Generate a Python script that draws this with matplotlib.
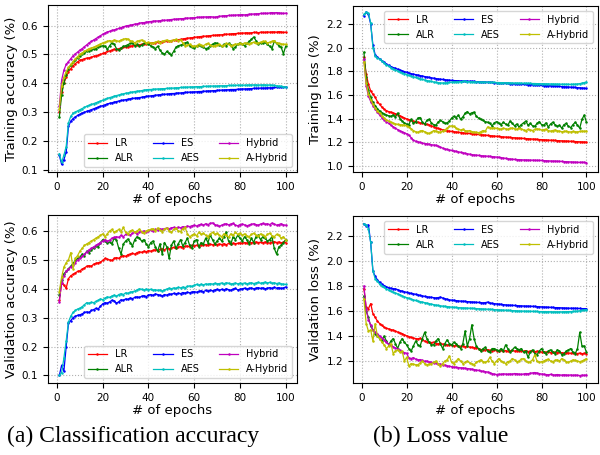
import matplotlib
matplotlib.use("Agg")
import matplotlib.pyplot as plt

epochs = list(range(1, 101))
labels = ["LR", "ALR", "ES", "AES", "Hybrid", "A-Hybrid"]
colors = ["r", "g", "b", "c", "m", "y"]

# ---- training accuracy ----
train_acc_lr = [
    0.300, 0.370, 0.400, 0.420, 0.440, 0.450, 0.460, 0.468, 0.474, 0.480,
    0.482, 0.485, 0.487, 0.488, 0.490, 0.493, 0.495, 0.497, 0.500, 0.503,
    0.506, 0.510, 0.512, 0.515, 0.518, 0.516, 0.520, 0.522, 0.524, 0.525,
    0.527, 0.528, 0.530, 0.531, 0.532, 0.533, 0.535, 0.536, 0.537, 0.538,
    0.539, 0.540, 0.541, 0.542, 0.543, 0.544, 0.545, 0.546, 0.547, 0.548,
    0.549, 0.550, 0.551, 0.552, 0.553, 0.555, 0.556, 0.557, 0.558, 0.559,
    0.560, 0.561, 0.562, 0.563, 0.563, 0.564, 0.565, 0.566, 0.566, 0.567,
    0.568, 0.568, 0.569, 0.570, 0.570, 0.571, 0.572, 0.572, 0.573, 0.573,
    0.574, 0.574, 0.575, 0.574, 0.575, 0.576, 0.576, 0.575, 0.577, 0.577,
    0.576, 0.578, 0.577, 0.578, 0.578, 0.577, 0.579, 0.578, 0.576, 0.577]
train_acc_alr = [
    0.282, 0.360, 0.400, 0.430, 0.450, 0.462, 0.472, 0.480, 0.488, 0.495,
    0.500, 0.505, 0.510, 0.512, 0.515, 0.518, 0.520, 0.525, 0.528, 0.530,
    0.528, 0.518, 0.530, 0.540, 0.535, 0.520, 0.515, 0.522, 0.528, 0.530,
    0.534, 0.538, 0.540, 0.530, 0.535, 0.528, 0.532, 0.538, 0.540, 0.535,
    0.530, 0.525, 0.520, 0.528, 0.515, 0.505, 0.500, 0.510, 0.503, 0.498,
    0.510, 0.525, 0.530, 0.532, 0.535, 0.540, 0.542, 0.530, 0.525, 0.522,
    0.528, 0.532, 0.530, 0.525, 0.520, 0.522, 0.530, 0.535, 0.540, 0.538,
    0.532, 0.528, 0.535, 0.530, 0.538, 0.532, 0.520, 0.525, 0.535, 0.540,
    0.535, 0.530, 0.538, 0.545, 0.552, 0.560, 0.548, 0.535, 0.540, 0.538,
    0.542, 0.535, 0.528, 0.520, 0.545, 0.538, 0.530, 0.525, 0.502, 0.528]
train_acc_es = [
    0.150, 0.118, 0.135, 0.160, 0.250, 0.268, 0.277, 0.283, 0.288, 0.292,
    0.296, 0.299, 0.302, 0.305, 0.308, 0.311, 0.314, 0.317, 0.320, 0.322,
    0.325, 0.328, 0.330, 0.332, 0.334, 0.336, 0.338, 0.340, 0.341, 0.343,
    0.344, 0.346, 0.347, 0.348, 0.349, 0.350, 0.351, 0.353, 0.354, 0.355,
    0.356, 0.357, 0.358, 0.359, 0.360, 0.361, 0.361, 0.362, 0.363, 0.364,
    0.364, 0.365, 0.366, 0.366, 0.367, 0.368, 0.368, 0.369, 0.369, 0.370,
    0.370, 0.371, 0.371, 0.372, 0.372, 0.373, 0.373, 0.374, 0.374, 0.375,
    0.375, 0.376, 0.376, 0.377, 0.377, 0.378, 0.378, 0.378, 0.379, 0.379,
    0.380, 0.380, 0.380, 0.381, 0.381, 0.382, 0.382, 0.382, 0.383, 0.383,
    0.383, 0.384, 0.384, 0.384, 0.385, 0.385, 0.385, 0.386, 0.385, 0.386]
train_acc_aes = [
    0.155, 0.125, 0.150, 0.180, 0.262, 0.285, 0.295, 0.300, 0.304, 0.308,
    0.312, 0.316, 0.320, 0.323, 0.326, 0.329, 0.332, 0.335, 0.338, 0.341,
    0.344, 0.347, 0.350, 0.352, 0.355, 0.357, 0.359, 0.361, 0.363, 0.365,
    0.366, 0.368, 0.369, 0.371, 0.372, 0.373, 0.374, 0.376, 0.377, 0.378,
    0.378, 0.379, 0.379, 0.380, 0.380, 0.381, 0.381, 0.382, 0.382, 0.383,
    0.383, 0.384, 0.384, 0.385, 0.385, 0.386, 0.386, 0.387, 0.387, 0.387,
    0.388, 0.388, 0.388, 0.389, 0.389, 0.389, 0.390, 0.390, 0.390, 0.390,
    0.391, 0.391, 0.391, 0.391, 0.392, 0.392, 0.392, 0.392, 0.393, 0.393,
    0.393, 0.393, 0.393, 0.394, 0.394, 0.394, 0.394, 0.393, 0.394, 0.394,
    0.394, 0.393, 0.394, 0.393, 0.392, 0.391, 0.390, 0.389, 0.388, 0.387]
train_acc_hybrid = [
    0.320, 0.410, 0.445, 0.465, 0.475, 0.485, 0.495, 0.502, 0.508, 0.515,
    0.520, 0.527, 0.533, 0.540, 0.545, 0.550, 0.555, 0.560, 0.565, 0.570,
    0.574, 0.578, 0.580, 0.583, 0.585, 0.587, 0.590, 0.593, 0.596, 0.598,
    0.600, 0.601, 0.603, 0.605, 0.606, 0.608, 0.610, 0.610, 0.612, 0.613,
    0.614, 0.615, 0.616, 0.616, 0.617, 0.618, 0.618, 0.619, 0.620, 0.621,
    0.622, 0.622, 0.623, 0.624, 0.624, 0.625, 0.626, 0.626, 0.627, 0.627,
    0.628, 0.629, 0.629, 0.630, 0.630, 0.630, 0.631, 0.630, 0.629, 0.631,
    0.632, 0.633, 0.634, 0.634, 0.635, 0.635, 0.636, 0.636, 0.637, 0.637,
    0.638, 0.637, 0.638, 0.639, 0.640, 0.640, 0.641, 0.641, 0.642, 0.642,
    0.643, 0.642, 0.644, 0.645, 0.644, 0.645, 0.644, 0.643, 0.642, 0.643]
train_acc_ahybrid = [
    0.310, 0.390, 0.420, 0.440, 0.455, 0.465, 0.475, 0.485, 0.492, 0.500,
    0.505, 0.510, 0.515, 0.520, 0.522, 0.525, 0.528, 0.532, 0.536, 0.540,
    0.542, 0.545, 0.548, 0.545, 0.550, 0.548, 0.545, 0.550, 0.552, 0.555,
    0.553, 0.548, 0.545, 0.540, 0.545, 0.548, 0.550, 0.545, 0.540, 0.542,
    0.540, 0.538, 0.542, 0.545, 0.540, 0.545, 0.548, 0.550, 0.546, 0.548,
    0.550, 0.552, 0.548, 0.550, 0.540, 0.530, 0.532, 0.535, 0.530, 0.528,
    0.530, 0.535, 0.532, 0.530, 0.535, 0.538, 0.532, 0.528, 0.530, 0.533,
    0.535, 0.530, 0.532, 0.538, 0.535, 0.530, 0.532, 0.536, 0.535, 0.538,
    0.535, 0.540, 0.538, 0.535, 0.540, 0.542, 0.538, 0.540, 0.542, 0.545,
    0.545, 0.540, 0.542, 0.545, 0.548, 0.540, 0.538, 0.536, 0.535, 0.535]

# ---- training loss ----
train_loss_lr = [
    1.920, 1.780, 1.690, 1.635, 1.605, 1.580, 1.545, 1.520, 1.498, 1.480,
    1.468, 1.460, 1.455, 1.448, 1.442, 1.435, 1.425, 1.415, 1.405, 1.398,
    1.392, 1.385, 1.380, 1.376, 1.370, 1.365, 1.360, 1.356, 1.352, 1.348,
    1.340, 1.332, 1.325, 1.318, 1.312, 1.306, 1.302, 1.298, 1.295, 1.292,
    1.290, 1.288, 1.285, 1.283, 1.281, 1.279, 1.277, 1.275, 1.273, 1.271,
    1.269, 1.267, 1.265, 1.263, 1.261, 1.259, 1.257, 1.255, 1.253, 1.251,
    1.250, 1.248, 1.246, 1.245, 1.243, 1.242, 1.240, 1.239, 1.237, 1.236,
    1.235, 1.233, 1.232, 1.231, 1.229, 1.228, 1.227, 1.225, 1.224, 1.223,
    1.222, 1.221, 1.219, 1.218, 1.217, 1.216, 1.215, 1.214, 1.213, 1.212,
    1.211, 1.210, 1.209, 1.208, 1.207, 1.206, 1.205, 1.204, 1.203, 1.202]
train_loss_alr = [
    1.960, 1.750, 1.640, 1.580, 1.540, 1.510, 1.485, 1.465, 1.450, 1.440,
    1.430, 1.425, 1.420, 1.432, 1.415, 1.448, 1.400, 1.380, 1.365, 1.355,
    1.350, 1.395, 1.360, 1.375, 1.405, 1.410, 1.370, 1.355, 1.385, 1.395,
    1.365, 1.350, 1.345, 1.372, 1.385, 1.375, 1.360, 1.365, 1.380, 1.405,
    1.420, 1.410, 1.430, 1.395, 1.415, 1.445, 1.460, 1.440, 1.450, 1.455,
    1.420, 1.405, 1.395, 1.385, 1.375, 1.370, 1.360, 1.340, 1.365, 1.375,
    1.360, 1.350, 1.370, 1.355, 1.345, 1.380, 1.360, 1.340, 1.355, 1.330,
    1.350, 1.365, 1.380, 1.345, 1.360, 1.340, 1.335, 1.360, 1.375, 1.350,
    1.345, 1.365, 1.330, 1.355, 1.370, 1.350, 1.335, 1.345, 1.320, 1.350,
    1.360, 1.335, 1.325, 1.350, 1.370, 1.345, 1.320, 1.395, 1.430, 1.370]
train_loss_es = [
    2.270, 2.300, 2.280, 2.200, 2.020, 1.940, 1.920, 1.905, 1.890, 1.875,
    1.862, 1.850, 1.840, 1.832, 1.825, 1.818, 1.810, 1.804, 1.798, 1.792,
    1.786, 1.780, 1.776, 1.772, 1.768, 1.764, 1.760, 1.756, 1.752, 1.748,
    1.745, 1.742, 1.739, 1.736, 1.733, 1.731, 1.729, 1.727, 1.725, 1.723,
    1.722, 1.721, 1.720, 1.719, 1.718, 1.718, 1.717, 1.716, 1.715, 1.714,
    1.713, 1.712, 1.711, 1.710, 1.709, 1.708, 1.707, 1.706, 1.705, 1.704,
    1.703, 1.702, 1.700, 1.699, 1.698, 1.697, 1.696, 1.695, 1.694, 1.693,
    1.692, 1.690, 1.689, 1.688, 1.687, 1.686, 1.685, 1.684, 1.682, 1.681,
    1.680, 1.679, 1.678, 1.677, 1.676, 1.675, 1.674, 1.673, 1.671, 1.670,
    1.669, 1.668, 1.666, 1.665, 1.664, 1.662, 1.661, 1.659, 1.657, 1.655]
train_loss_aes = [
    2.280, 2.300, 2.290, 2.210, 2.000, 1.930, 1.915, 1.900, 1.885, 1.870,
    1.856, 1.843, 1.832, 1.822, 1.812, 1.803, 1.795, 1.787, 1.780, 1.773,
    1.766, 1.760, 1.754, 1.748, 1.742, 1.737, 1.732, 1.727, 1.722, 1.718,
    1.714, 1.710, 1.707, 1.704, 1.702, 1.701, 1.702, 1.704, 1.706, 1.708,
    1.710, 1.711, 1.712, 1.713, 1.714, 1.714, 1.713, 1.712, 1.712, 1.711,
    1.710, 1.710, 1.709, 1.708, 1.708, 1.707, 1.707, 1.706, 1.706, 1.705,
    1.705, 1.704, 1.704, 1.703, 1.703, 1.702, 1.702, 1.701, 1.701, 1.700,
    1.700, 1.699, 1.699, 1.698, 1.698, 1.697, 1.697, 1.696, 1.696, 1.695,
    1.695, 1.694, 1.694, 1.693, 1.693, 1.692, 1.692, 1.691, 1.691, 1.690,
    1.690, 1.690, 1.689, 1.690, 1.691, 1.693, 1.696, 1.700, 1.705, 1.710]
train_loss_hybrid = [
    1.900, 1.680, 1.590, 1.545, 1.510, 1.480, 1.455, 1.430, 1.410, 1.390,
    1.375, 1.360, 1.345, 1.332, 1.320, 1.308, 1.298, 1.290, 1.282, 1.272,
    1.260, 1.240, 1.218, 1.210, 1.205, 1.200, 1.195, 1.190, 1.188, 1.185,
    1.180, 1.178, 1.175, 1.168, 1.160, 1.152, 1.145, 1.140, 1.136, 1.132,
    1.128, 1.124, 1.120, 1.116, 1.112, 1.108, 1.104, 1.100, 1.097, 1.094,
    1.092, 1.090, 1.088, 1.086, 1.085, 1.083, 1.082, 1.080, 1.078, 1.076,
    1.074, 1.072, 1.068, 1.065, 1.062, 1.060, 1.058, 1.056, 1.055, 1.054,
    1.053, 1.052, 1.052, 1.051, 1.050, 1.050, 1.049, 1.048, 1.048, 1.047,
    1.046, 1.045, 1.044, 1.043, 1.042, 1.042, 1.041, 1.040, 1.039, 1.038,
    1.037, 1.036, 1.035, 1.034, 1.033, 1.032, 1.031, 1.032, 1.031, 1.030]
train_loss_ahybrid = [
    1.880, 1.700, 1.610, 1.560, 1.520, 1.490, 1.465, 1.445, 1.425, 1.405,
    1.392, 1.380, 1.370, 1.362, 1.356, 1.352, 1.350, 1.348, 1.345, 1.340,
    1.330, 1.315, 1.300, 1.290, 1.285, 1.295, 1.300, 1.290, 1.280, 1.275,
    1.285, 1.300, 1.295, 1.290, 1.285, 1.295, 1.305, 1.320, 1.335, 1.340,
    1.335, 1.320, 1.310, 1.305, 1.310, 1.300, 1.295, 1.300, 1.290, 1.288,
    1.285, 1.282, 1.290, 1.300, 1.295, 1.330, 1.325, 1.320, 1.322, 1.318,
    1.315, 1.312, 1.320, 1.315, 1.310, 1.318, 1.322, 1.315, 1.310, 1.320,
    1.315, 1.305, 1.300, 1.310, 1.305, 1.300, 1.310, 1.315, 1.310, 1.305,
    1.308, 1.312, 1.300, 1.295, 1.300, 1.305, 1.298, 1.295, 1.290, 1.292,
    1.295, 1.290, 1.288, 1.292, 1.290, 1.288, 1.292, 1.295, 1.293, 1.295]

# ---- validation accuracy ----
val_acc_lr = [
    0.360, 0.420, 0.412, 0.402, 0.435, 0.445, 0.450, 0.455, 0.460, 0.462,
    0.468, 0.472, 0.478, 0.480, 0.478, 0.485, 0.488, 0.490, 0.492, 0.498,
    0.505, 0.502, 0.500, 0.498, 0.505, 0.508, 0.505, 0.512, 0.515, 0.512,
    0.518, 0.520, 0.522, 0.520, 0.525, 0.528, 0.526, 0.530, 0.528, 0.532,
    0.530, 0.533, 0.535, 0.532, 0.536, 0.538, 0.535, 0.540, 0.538, 0.541,
    0.543, 0.540, 0.544, 0.546, 0.542, 0.547, 0.548, 0.545, 0.550, 0.548,
    0.551, 0.549, 0.552, 0.550, 0.553, 0.551, 0.554, 0.552, 0.555, 0.553,
    0.555, 0.553, 0.556, 0.552, 0.557, 0.555, 0.558, 0.556, 0.557, 0.559,
    0.557, 0.560, 0.558, 0.561, 0.559, 0.560, 0.562, 0.560, 0.561, 0.559,
    0.562, 0.560, 0.558, 0.561, 0.563, 0.560, 0.562, 0.559, 0.561, 0.560]
val_acc_alr = [
    0.380, 0.430, 0.452, 0.460, 0.470, 0.478, 0.488, 0.498, 0.505, 0.510,
    0.520, 0.515, 0.530, 0.525, 0.535, 0.540, 0.548, 0.545, 0.560, 0.570,
    0.565, 0.558, 0.562, 0.555, 0.575, 0.568, 0.540, 0.520, 0.555, 0.565,
    0.572, 0.560, 0.548, 0.570, 0.580, 0.575, 0.565, 0.570, 0.555, 0.545,
    0.560, 0.565, 0.545, 0.530, 0.555, 0.520, 0.560, 0.545, 0.505, 0.550,
    0.565, 0.540, 0.555, 0.570, 0.548, 0.560, 0.575, 0.550, 0.540, 0.565,
    0.570, 0.545, 0.560, 0.555, 0.575, 0.560, 0.585, 0.570, 0.555, 0.565,
    0.575, 0.565, 0.580, 0.595, 0.565, 0.555, 0.580, 0.570, 0.585, 0.575,
    0.565, 0.580, 0.570, 0.555, 0.575, 0.560, 0.580, 0.585, 0.570, 0.580,
    0.575, 0.565, 0.570, 0.580, 0.540, 0.520, 0.545, 0.550, 0.560, 0.570]
val_acc_es = [
    0.100, 0.135, 0.115, 0.200, 0.280, 0.290, 0.300, 0.305, 0.308, 0.310,
    0.313, 0.318, 0.320, 0.318, 0.325, 0.328, 0.332, 0.330, 0.340, 0.348,
    0.352, 0.350, 0.355, 0.360, 0.358, 0.350, 0.355, 0.362, 0.360, 0.365,
    0.363, 0.368, 0.366, 0.370, 0.372, 0.370, 0.374, 0.376, 0.373, 0.378,
    0.380, 0.377, 0.382, 0.380, 0.378, 0.375, 0.380, 0.378, 0.382, 0.381,
    0.384, 0.382, 0.385, 0.383, 0.387, 0.385, 0.388, 0.386, 0.389, 0.390,
    0.388, 0.391, 0.393, 0.390, 0.394, 0.392, 0.395, 0.393, 0.396, 0.398,
    0.395, 0.398, 0.396, 0.400, 0.397, 0.395, 0.399, 0.401, 0.396, 0.398,
    0.400, 0.402, 0.399, 0.401, 0.403, 0.400, 0.402, 0.404, 0.401, 0.403,
    0.400, 0.402, 0.404, 0.401, 0.405, 0.402, 0.404, 0.401, 0.403, 0.406]
val_acc_aes = [
    0.100, 0.110, 0.160, 0.220, 0.285, 0.305, 0.318, 0.325, 0.330, 0.333,
    0.338, 0.345, 0.352, 0.350, 0.353, 0.352, 0.356, 0.360, 0.365, 0.362,
    0.368, 0.372, 0.370, 0.375, 0.378, 0.374, 0.380, 0.383, 0.380, 0.386,
    0.384, 0.388, 0.390, 0.392, 0.396, 0.400, 0.398, 0.396, 0.399, 0.397,
    0.398, 0.395, 0.397, 0.394, 0.396, 0.392, 0.396, 0.399, 0.402, 0.400,
    0.403, 0.401, 0.405, 0.403, 0.406, 0.404, 0.408, 0.410, 0.408, 0.412,
    0.415, 0.412, 0.416, 0.413, 0.417, 0.415, 0.418, 0.416, 0.419, 0.417,
    0.418, 0.420, 0.417, 0.421, 0.419, 0.416, 0.418, 0.420, 0.417, 0.419,
    0.418, 0.420, 0.417, 0.419, 0.421, 0.418, 0.420, 0.422, 0.419, 0.421,
    0.423, 0.420, 0.422, 0.419, 0.421, 0.418, 0.420, 0.417, 0.416, 0.415]
val_acc_hybrid = [
    0.355, 0.420, 0.445, 0.460, 0.468, 0.475, 0.482, 0.490, 0.500, 0.505,
    0.512, 0.520, 0.528, 0.535, 0.540, 0.545, 0.550, 0.555, 0.560, 0.565,
    0.570, 0.565, 0.568, 0.575, 0.578, 0.580, 0.578, 0.585, 0.580, 0.588,
    0.590, 0.586, 0.592, 0.595, 0.590, 0.596, 0.598, 0.600, 0.597, 0.601,
    0.603, 0.600, 0.605, 0.603, 0.607, 0.605, 0.608, 0.610, 0.607, 0.611,
    0.612, 0.610, 0.613, 0.611, 0.615, 0.613, 0.617, 0.615, 0.618, 0.620,
    0.617, 0.621, 0.623, 0.620, 0.625, 0.622, 0.626, 0.628, 0.622, 0.619,
    0.616, 0.620, 0.623, 0.625, 0.621, 0.624, 0.626, 0.620, 0.618, 0.622,
    0.624, 0.621, 0.618, 0.620, 0.623, 0.625, 0.622, 0.620, 0.624, 0.626,
    0.623, 0.625, 0.622, 0.627, 0.624, 0.620, 0.622, 0.625, 0.621, 0.620]
val_acc_ahybrid = [
    0.390, 0.440, 0.475, 0.490, 0.500, 0.525, 0.470, 0.505, 0.515, 0.530,
    0.540, 0.550, 0.555, 0.560, 0.565, 0.570, 0.575, 0.580, 0.585, 0.590,
    0.580, 0.590, 0.600, 0.605, 0.595, 0.600, 0.605, 0.598, 0.612, 0.595,
    0.588, 0.600, 0.603, 0.595, 0.600, 0.606, 0.598, 0.592, 0.600, 0.603,
    0.605, 0.608, 0.600, 0.610, 0.603, 0.598, 0.606, 0.610, 0.600, 0.595,
    0.605, 0.610, 0.600, 0.598, 0.608, 0.612, 0.590, 0.580, 0.585, 0.590,
    0.583, 0.595, 0.588, 0.592, 0.585, 0.580, 0.590, 0.595, 0.588, 0.592,
    0.585, 0.580, 0.590, 0.585, 0.578, 0.590, 0.585, 0.595, 0.588, 0.592,
    0.585, 0.590, 0.583, 0.580, 0.588, 0.592, 0.585, 0.582, 0.590, 0.586,
    0.580, 0.588, 0.592, 0.584, 0.580, 0.588, 0.585, 0.575, 0.580, 0.570]

# ---- validation loss ----
val_loss_lr = [
    1.780, 1.630, 1.620, 1.660, 1.580, 1.550, 1.520, 1.500, 1.485, 1.470,
    1.462, 1.458, 1.452, 1.448, 1.440, 1.432, 1.425, 1.420, 1.410, 1.402,
    1.395, 1.390, 1.385, 1.380, 1.378, 1.382, 1.370, 1.360, 1.355, 1.350,
    1.348, 1.352, 1.340, 1.338, 1.342, 1.335, 1.332, 1.330, 1.328, 1.325,
    1.322, 1.325, 1.320, 1.318, 1.322, 1.315, 1.318, 1.312, 1.310, 1.308,
    1.305, 1.298, 1.292, 1.290, 1.288, 1.292, 1.285, 1.283, 1.288, 1.284,
    1.282, 1.286, 1.280, 1.284, 1.278, 1.282, 1.285, 1.280, 1.283, 1.278,
    1.282, 1.279, 1.283, 1.276, 1.280, 1.278, 1.275, 1.279, 1.276, 1.272,
    1.275, 1.270, 1.273, 1.268, 1.272, 1.269, 1.266, 1.270, 1.267, 1.264,
    1.268, 1.265, 1.262, 1.266, 1.263, 1.260, 1.264, 1.258, 1.262, 1.260]
val_loss_alr = [
    1.720, 1.600, 1.550, 1.480, 1.450, 1.420, 1.400, 1.380, 1.360, 1.400,
    1.360, 1.330, 1.360, 1.380, 1.340, 1.300, 1.350, 1.380, 1.350, 1.330,
    1.300, 1.280, 1.320, 1.360, 1.330, 1.320, 1.380, 1.430, 1.380, 1.350,
    1.330, 1.330, 1.360, 1.380, 1.340, 1.300, 1.340, 1.370, 1.340, 1.330,
    1.350, 1.340, 1.320, 1.300, 1.340, 1.440, 1.320, 1.380, 1.490, 1.380,
    1.320, 1.300, 1.280, 1.300, 1.310, 1.280, 1.270, 1.300, 1.300, 1.290,
    1.280, 1.300, 1.280, 1.330, 1.300, 1.270, 1.290, 1.310, 1.300, 1.290,
    1.300, 1.270, 1.280, 1.230, 1.270, 1.290, 1.260, 1.250, 1.280, 1.300,
    1.270, 1.260, 1.280, 1.290, 1.270, 1.260, 1.290, 1.280, 1.250, 1.260,
    1.280, 1.290, 1.300, 1.270, 1.260, 1.300, 1.430, 1.320, 1.320, 1.270]
val_loss_es = [
    2.300, 2.285, 2.290, 2.150, 1.920, 1.880, 1.850, 1.830, 1.815, 1.805,
    1.795, 1.788, 1.782, 1.780, 1.778, 1.772, 1.765, 1.760, 1.755, 1.750,
    1.745, 1.742, 1.738, 1.735, 1.730, 1.725, 1.722, 1.718, 1.715, 1.712,
    1.710, 1.708, 1.705, 1.708, 1.712, 1.705, 1.700, 1.695, 1.690, 1.688,
    1.686, 1.684, 1.682, 1.680, 1.679, 1.678, 1.676, 1.675, 1.673, 1.672,
    1.670, 1.669, 1.668, 1.666, 1.668, 1.672, 1.665, 1.662, 1.660, 1.658,
    1.656, 1.654, 1.652, 1.650, 1.648, 1.647, 1.646, 1.645, 1.644, 1.643,
    1.642, 1.641, 1.640, 1.640, 1.639, 1.638, 1.637, 1.636, 1.635, 1.634,
    1.633, 1.632, 1.631, 1.630, 1.629, 1.628, 1.628, 1.627, 1.626, 1.625,
    1.624, 1.623, 1.623, 1.622, 1.622, 1.621, 1.621, 1.620, 1.620, 1.620]
val_loss_aes = [
    2.300, 2.290, 2.260, 2.150, 1.920, 1.860, 1.840, 1.815, 1.800, 1.790,
    1.778, 1.768, 1.760, 1.752, 1.745, 1.738, 1.730, 1.722, 1.715, 1.708,
    1.702, 1.696, 1.690, 1.685, 1.680, 1.676, 1.672, 1.668, 1.664, 1.660,
    1.656, 1.652, 1.648, 1.645, 1.642, 1.640, 1.638, 1.636, 1.634, 1.632,
    1.630, 1.629, 1.628, 1.627, 1.626, 1.625, 1.624, 1.623, 1.622, 1.621,
    1.620, 1.619, 1.618, 1.617, 1.616, 1.615, 1.614, 1.613, 1.612, 1.611,
    1.610, 1.609, 1.608, 1.607, 1.606, 1.605, 1.604, 1.603, 1.602, 1.601,
    1.600, 1.600, 1.599, 1.599, 1.598, 1.598, 1.597, 1.597, 1.596, 1.596,
    1.596, 1.595, 1.595, 1.595, 1.594, 1.594, 1.594, 1.594, 1.594, 1.595,
    1.595, 1.596, 1.596, 1.597, 1.598, 1.600, 1.603, 1.606, 1.609, 1.612]
val_loss_hybrid = [
    1.800, 1.620, 1.530, 1.490, 1.450, 1.430, 1.420, 1.400, 1.385, 1.370,
    1.350, 1.335, 1.325, 1.315, 1.305, 1.295, 1.285, 1.275, 1.268, 1.262,
    1.225, 1.220, 1.228, 1.215, 1.210, 1.212, 1.205, 1.198, 1.200, 1.192,
    1.190, 1.185, 1.182, 1.178, 1.175, 1.170, 1.168, 1.162, 1.158, 1.155,
    1.152, 1.150, 1.148, 1.146, 1.145, 1.142, 1.140, 1.138, 1.135, 1.132,
    1.128, 1.125, 1.120, 1.118, 1.115, 1.112, 1.108, 1.100, 1.095, 1.092,
    1.095, 1.093, 1.098, 1.096, 1.094, 1.097, 1.095, 1.100, 1.098, 1.095,
    1.093, 1.096, 1.100, 1.098, 1.102, 1.105, 1.108, 1.104, 1.100, 1.096,
    1.094, 1.092, 1.090, 1.093, 1.090, 1.088, 1.092, 1.089, 1.087, 1.090,
    1.088, 1.086, 1.089, 1.085, 1.088, 1.086, 1.084, 1.087, 1.085, 1.088]
val_loss_ahybrid = [
    1.700, 1.500, 1.440, 1.450, 1.360, 1.500, 1.400, 1.380, 1.350, 1.330,
    1.300, 1.320, 1.340, 1.260, 1.280, 1.290, 1.270, 1.280, 1.200, 1.230,
    1.160, 1.180, 1.175, 1.170, 1.170, 1.185, 1.200, 1.180, 1.170, 1.175,
    1.180, 1.190, 1.200, 1.180, 1.160, 1.180, 1.200, 1.210, 1.240, 1.190,
    1.180, 1.200, 1.220, 1.200, 1.180, 1.190, 1.200, 1.185, 1.180, 1.170,
    1.190, 1.200, 1.210, 1.195, 1.190, 1.200, 1.230, 1.200, 1.180, 1.200,
    1.220, 1.200, 1.190, 1.180, 1.195, 1.200, 1.220, 1.210, 1.195, 1.200,
    1.215, 1.220, 1.200, 1.190, 1.195, 1.210, 1.250, 1.200, 1.190, 1.195,
    1.200, 1.210, 1.215, 1.200, 1.195, 1.205, 1.210, 1.200, 1.220, 1.210,
    1.195, 1.190, 1.200, 1.210, 1.205, 1.200, 1.195, 1.200, 1.210, 1.220]

fig = plt.figure(figsize=(6, 4.55), dpi=100)


def panel(rect, series, ylabel, legend_loc):
    ax = fig.add_axes(rect)
    for vals, lab, col in zip(series, labels, colors):
        ax.plot(epochs, vals, color=col, label=lab, lw=0.9, marker=".", ms=1.6)
    ax.set_xticks([0, 20, 40, 60, 80, 100])
    ax.set_xlabel("# of epochs", fontsize=9.5, labelpad=1)
    ax.set_ylabel(ylabel, fontsize=9.5, labelpad=3)
    ax.tick_params(labelsize=7.5)
    ax.grid(True, ls=":", color="#b0b0b0", lw=0.8)
    ax.legend(loc=legend_loc, ncol=3, fontsize=7)
    return ax


panel([0.080, 0.622, 0.415, 0.367],
      [train_acc_lr, train_acc_alr, train_acc_es, train_acc_aes,
       train_acc_hybrid, train_acc_ahybrid],
      "Training accuracy (%)", "lower right")
ax2 = panel([0.588, 0.622, 0.408, 0.365],
            [train_loss_lr, train_loss_alr, train_loss_es, train_loss_aes,
             train_loss_hybrid, train_loss_ahybrid],
            "Training loss (%)", "upper right")
ax2.set_yticks([1.0, 1.2, 1.4, 1.6, 1.8, 2.0, 2.2])
ax2.set_ylim(0.95, 2.352)
panel([0.080, 0.158, 0.415, 0.369],
      [val_acc_lr, val_acc_alr, val_acc_es, val_acc_aes,
       val_acc_hybrid, val_acc_ahybrid],
      "Validation accuracy (%)", "lower right")
panel([0.588, 0.158, 0.408, 0.367],
      [val_loss_lr, val_loss_alr, val_loss_es, val_loss_aes,
       val_loss_hybrid, val_loss_ahybrid],
      "Validation loss (%)", "upper right")

fig.text(0.2225, 0.040, "(a) Classification accuracy", family="Liberation Serif",
         fontsize=17, ha="center", va="center")
fig.text(0.734, 0.040, "(b) Loss value", family="Liberation Serif",
         fontsize=17, ha="center", va="center")

fig.savefig("out.png", dpi=100)
